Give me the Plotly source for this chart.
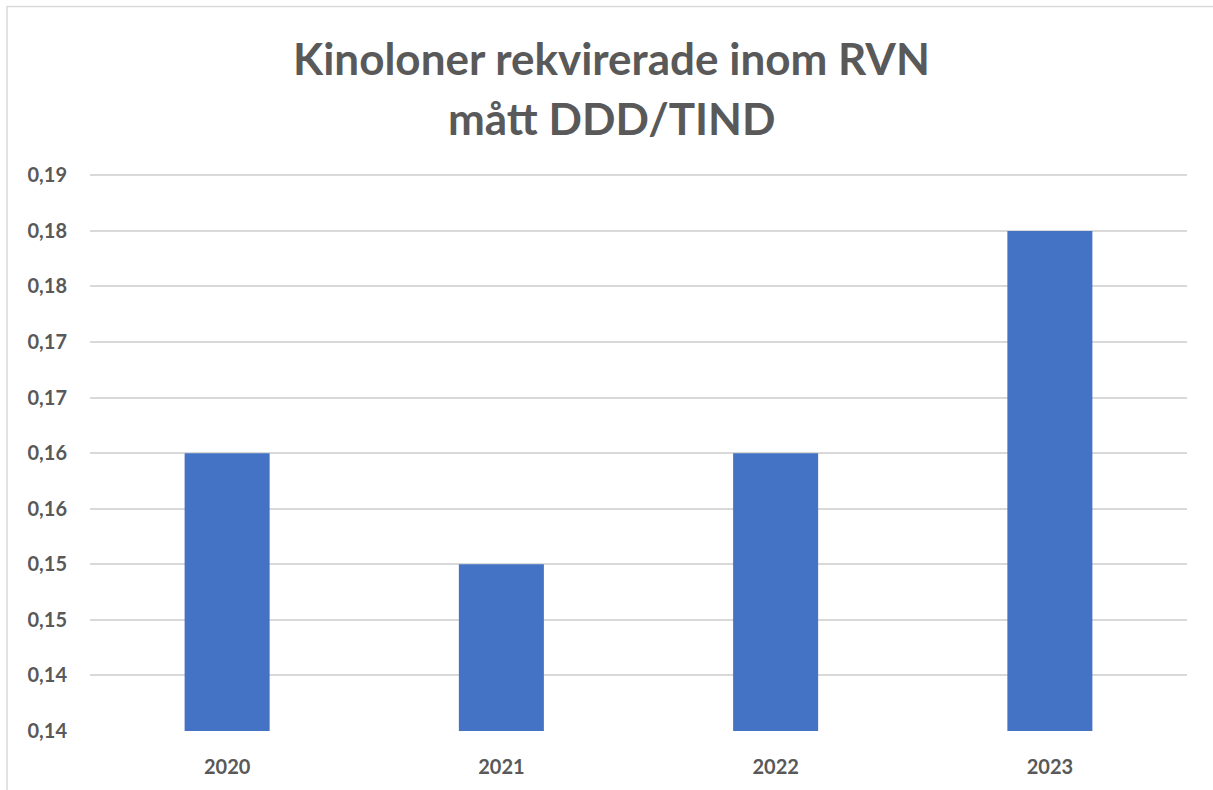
import plotly.graph_objects as go

years = ["2020", "2021", "2022", "2023"]
values = [0.165, 0.155, 0.165, 0.185]
tick_vals = [0.14, 0.145, 0.15, 0.155, 0.16, 0.165, 0.17, 0.175, 0.18, 0.185, 0.19]
tick_text = ["0,14", "0,14", "0,15", "0,15", "0,16", "0,16", "0,17", "0,17", "0,18", "0,18", "0,19"]
title_lines = ["Kinoloner rekvirerade inom RVN", "mått DDD/TIND"]

GRAY = "#595959"
FONT = "Lato"

Y0, Y1 = 0.14, 0.19
Y1_EXT = 0.1903  # small headroom so the top gridline is drawn

# target plot area in window pixels (0.14 at 733, 0.19 at 175)
PX0, PX1, PYB = 90, 1187, 733
PPU = (733 - 175) / (Y1 - Y0)
W, H = 1213, 790
pw = PX1 - PX0
ph = round(PPU * (Y1_EXT - Y0))
L = PX0
T = PYB - ph
R = W - L - pw
B = H - T - ph

def px_x(x):
    return (x - PX0) / pw

def px_y(y):
    return (PYB - y) / ph

fig = go.Figure()
fig.add_trace(go.Bar(x=years, y=values, marker=dict(color="#4472C4", line=dict(width=0)),
                     hoverinfo="x+y"))

fig.update_layout(
    width=W, height=H,
    margin=dict(l=L, r=R, t=T, b=B),
    paper_bgcolor="white", plot_bgcolor="white",
    bargap=0.69,
    showlegend=False,
    font=dict(family=FONT, color=GRAY),
)
fig.update_yaxes(range=[Y0, Y1_EXT], tickvals=tick_vals, ticktext=tick_text,
                 showgrid=True, gridcolor="#d9d9d9", gridwidth=1.5, zeroline=False,
                 showline=False, ticks="", ticklabelstandoff=22,
                 tickfont=dict(family=FONT, size=20, color=GRAY, weight="bold"))
fig.update_xaxes(showgrid=False, showline=False, ticks="", ticklabelstandoff=22,
                 tickfont=dict(family=FONT, size=20, color=GRAY, weight="bold"))

# title lines
for line, ypix in zip(title_lines, [58, 118]):
    fig.add_annotation(text=line, xref="paper", yref="paper",
                       x=px_x(611), y=px_y(ypix),
                       xanchor="center", yanchor="middle", showarrow=False,
                       font=dict(family=FONT, size=44, color=GRAY, weight="bold"))

# chart border
fig.add_shape(type="rect", xref="paper", yref="paper",
              x0=px_x(7), x1=px_x(1240),
              y0=px_y(820), y1=px_y(6),
              line=dict(color="#d9d9d9", width=1.5), fillcolor="rgba(0,0,0,0)", layer="below")

fig.write_html("out.html", config={"displayModeBar": False},
               post_script="document.body.style.margin='0';document.body.style.overflow='hidden';")
